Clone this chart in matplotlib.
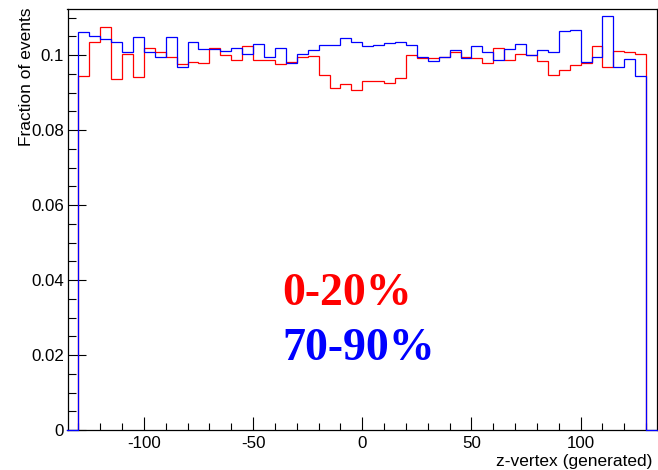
import numpy as np
import matplotlib
matplotlib.use("Agg")
import matplotlib.pyplot as plt
from matplotlib.ticker import MultipleLocator, FuncFormatter

# Binning of the generated z-vertex histograms (52 bins of 5 units)
bin_low = -130.0
bin_high = 130.0
n_bins = 52

# Fraction of events per bin, central collisions (0-20%)
central = [
    0.0944, 0.1034, 0.1074, 0.0935, 0.1003, 0.0942, 0.1018, 0.1007, 0.0994, 0.0975,
    0.0982, 0.0979, 0.1018, 0.1000, 0.0987, 0.1024, 0.0988, 0.0987, 0.0975, 0.0981,
    0.0994, 0.0998, 0.0947, 0.0913, 0.0924, 0.0908, 0.0931, 0.0932, 0.0926, 0.0940,
    0.0999, 0.0992, 0.0991, 0.0994, 0.1009, 0.0996, 0.0991, 0.0978, 0.1018, 0.0987,
    0.1003, 0.0999, 0.0985, 0.0947, 0.0960, 0.0974, 0.0979, 0.1024, 0.0969, 0.1011,
    0.1008, 0.1004,
]

# Fraction of events per bin, peripheral collisions (70-90%)
peripheral = [
    0.1062, 0.1051, 0.1044, 0.1035, 0.1009, 0.1048, 0.1009, 0.0995, 0.1049, 0.0967,
    0.1035, 0.1016, 0.1016, 0.1011, 0.1019, 0.1003, 0.1029, 0.0994, 0.1018, 0.0979,
    0.1002, 0.1013, 0.1027, 0.1027, 0.1046, 0.1034, 0.1024, 0.1027, 0.1031, 0.1034,
    0.1028, 0.0994, 0.0985, 0.0996, 0.1014, 0.0991, 0.1024, 0.1009, 0.0988, 0.1016,
    0.1029, 0.0999, 0.1013, 0.1007, 0.1063, 0.1068, 0.0982, 0.0994, 0.1104, 0.0969,
    0.0989, 0.0944,
]

labels = ["0-20%", "70-90%"]
x_title = "z-vertex (generated)"
y_title = "Fraction of events"

edges = np.linspace(bin_low, bin_high, n_bins + 1)
x_range = (-135, 135)
y_range = (0, 0.1123)

W, H = 658, 470
fig = plt.figure(figsize=(W / 100, H / 100), dpi=100)
left_px, right_px, top_px, bottom_px = 67.5, 657.0, 9.0, 430.0
ax = fig.add_axes([left_px / W, 1 - bottom_px / H,
                   (right_px - left_px) / W, (bottom_px - top_px) / H])

sans = ["Liberation Sans", "DejaVu Sans"]
serif = ["Liberation Serif", "DejaVu Serif"]

# Histograms drawn as outlines down to zero at the outer edges
ax.stairs(central, edges, baseline=0, fill=False, color="#ff0000", lw=0.9, zorder=3)
ax.plot([x_range[0], edges[0]], [0, 0], color="#0000ff", lw=0.9, zorder=4, clip_on=False)
ax.plot([edges[-1], x_range[1]], [0, 0], color="#0000ff", lw=0.9, zorder=4, clip_on=False)
ax.stairs(peripheral, edges, baseline=0, fill=False, color="#0000ff", lw=0.9, zorder=4)

ax.set_xlim(*x_range)
ax.set_ylim(*y_range)

ax.xaxis.set_major_locator(MultipleLocator(50))
ax.xaxis.set_minor_locator(MultipleLocator(10))
ax.yaxis.set_major_locator(MultipleLocator(0.02))
ax.yaxis.set_minor_locator(MultipleLocator(0.005))
ax.yaxis.set_major_formatter(FuncFormatter(lambda v, p: "0" if abs(v) < 1e-12 else ("%g" % round(v, 4))))
ax.xaxis.set_major_formatter(FuncFormatter(lambda v, p: "%d" % v))

ax.tick_params(axis="both", which="both", direction="in", top=False, right=False,
               width=0.8, color="black")
ax.tick_params(axis="x", which="major", length=9.1, pad=4.5)
ax.tick_params(axis="x", which="minor", length=4.7)
ax.tick_params(axis="y", which="major", length=12.6, pad=2.5)
ax.tick_params(axis="y", which="minor", length=5.8)

for lab in ax.get_xticklabels() + ax.get_yticklabels():
    lab.set_family(sans)
    lab.set_fontsize(12.2)

for s in ax.spines.values():
    s.set_linewidth(0.9)
    s.set_color("black")

fig.text(652 / W, 1 - 466 / H, x_title, ha="right", va="baseline",
         fontsize=12.5, family=sans)
fig.text(27.0 / W, 1 - 7 / H, y_title, ha="center", va="top", rotation=90,
         fontsize=12.5, family=sans)

ax.text(-36.8, 0.0333, labels[0], color="#ff0000", fontsize=33, fontweight="bold",
        family=serif, ha="left", va="baseline", zorder=5)
ax.text(-36.8, 0.0187, labels[1], color="#0000ff", fontsize=33, fontweight="bold",
        family=serif, ha="left", va="baseline", zorder=5)

fig.savefig("out.png", dpi=100)
